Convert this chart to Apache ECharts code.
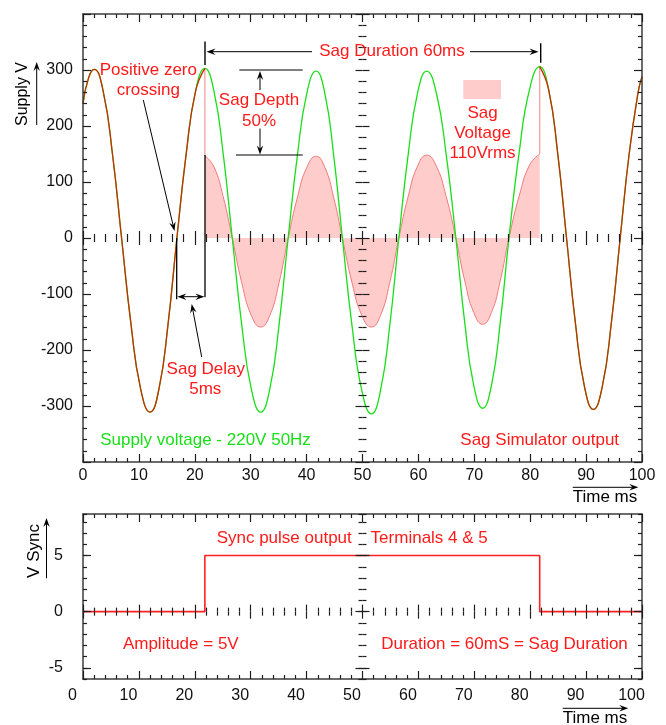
<!DOCTYPE html>
<html>
<head>
<meta charset="utf-8">
<script src="https://cdn.jsdelivr.net/npm/echarts@6/dist/echarts.min.js"></script>
<style>
  html, body { margin: 0; padding: 0; background: #fff; }
  #chart { width: 666px; height: 725px; }
</style>
</head>
<body>
<div id="chart"></div>
<script>
// ---------- data ----------
const timeTickLabels = [0, 10, 20, 30, 40, 50, 60, 70, 80, 90, 100];
const supplyTickLabels = [-300, -200, -100, 0, 100, 200, 300];
const syncTickLabels = [-5, 0, 5];

// Supply voltage (green), ms / volts
const supplyTime = [0, 1, 2, 3.63, 5.27, 6.9, 8.6, 10.3, 12, 13.6, 15.2, 16.8, 18.47, 20.13, 21.8,
  23.43, 25.07, 26.7, 28.4, 30.1, 31.8, 33.43, 35.07, 36.7, 38.37, 40.03, 41.7,
  43.27, 44.83, 46.4, 48.13, 49.87, 51.6, 53.23, 54.87, 56.5, 58.17, 59.83, 61.5,
  63.23, 64.97, 66.7, 68.3, 69.9, 71.5, 73.07, 74.63, 76.2, 78.03, 79.87, 81.7,
  83.3, 84.9, 86.5, 88.1, 89.7, 91.3, 92.9, 94.5, 96.1, 97.7, 99.3, 100];
const supplyVolts = [240, 286, 301, 261, 150, 0, -155, -269, -311, -269, -155, 0, 151, 262, 303,
  262, 151, 0, -155, -269, -311, -269, -155, 0, 149, 258, 298,
  258, 149, 0, -157, -272, -314, -272, -157, 0, 149, 258, 298,
  258, 149, 0, -152, -263, -304, -263, -152, 0, 153, 265, 306,
  265, 153, 0, -153, -265, -306, -265, -153, 0, 150, 260, 288];

// Sag simulator output during the sag (half amplitude)
const sagTime = [21.8, 23.43, 25.07, 26.7, 28.4, 30.1, 31.8, 33.43, 35.07, 36.7, 38.37, 40.03, 41.7,
  43.27, 44.83, 46.4, 48.13, 49.87, 51.6, 53.23, 54.87, 56.5, 58.17, 59.83, 61.5,
  63.23, 64.97, 66.7, 68.3, 69.9, 71.5, 73.07, 74.63, 76.2, 78.03, 79.87, 81.7];
const sagVolts = [147, 127, 74, 0, -80, -138, -159, -138, -80, 0, 73, 126, 146,
  126, 73, 0, -80, -138, -159, -138, -80, 0, 74, 128, 148,
  128, 74, 0, -77, -133, -154, -133, -77, 0, 75, 130, 150];

// Sync pulse (bottom panel)
const pulseTime = [0, 21.8, 21.8, 81.7, 81.7, 100];
const pulseVolts = [0, 0, 5, 5, 0, 0];

// ---------- layout ----------
const timeMin = 0, timeMax = 100, timeStep = 10, centreTime = 50;
const supplyMin = -400, supplyMax = 400, supplyStep = 100;
const syncMin = -6, syncMax = 8.7, syncStep = 1;

const topGrid = { left: 83, top: 14, width: 559, height: 448 };
const botGrid = { left: 83, top: 514, width: 559, height: 165 };

const FONT = '"Liberation Sans", Arial, Helvetica, sans-serif';
const RED = '#ff1a1a', GREEN = '#19df19';
const frameLine = { color: '#3c3c3c', width: 1.5 };
const tickLine = { color: '#1e1e1e', width: 1.2 };

const topZeroOffset = -topGrid.height * (0 - supplyMin) / (supplyMax - supplyMin);
const botZeroOffset = -botGrid.height * (0 - syncMin) / (syncMax - syncMin);
const topCentreOffset = -topGrid.width * (centreTime - timeMin) / (timeMax - timeMin);
const botCentreOffset = -botGrid.width * (centreTime - timeMin) / (timeMax - timeMin);

function xAx(gridIndex, position, o) {
  return Object.assign({
    type: 'value', gridIndex, position, min: timeMin, max: timeMax, interval: timeStep, z: 4,
    axisLine: { show: true, onZero: false, lineStyle: frameLine },
    axisTick: { show: true, inside: true, length: 8, lineStyle: tickLine },
    minorTick: { show: true, splitNumber: 5, length: 4, lineStyle: tickLine },
    axisLabel: { show: false },
    splitLine: { show: false }, minorSplitLine: { show: false }
  }, o);
}
function xCentre(gridIndex, offset, inside) {
  return xAx(gridIndex, 'bottom', {
    offset,
    axisLine: { show: false, onZero: false },
    axisTick: { show: true, inside, length: 7, lineStyle: tickLine },
    minorTick: { show: true, splitNumber: 5, length: 4, lineStyle: tickLine }
  });
}
function yAx(gridIndex, position, min, max, interval, o) {
  return Object.assign({
    type: 'value', gridIndex, position, min, max, interval, z: 4,
    axisLine: { show: true, onZero: false, lineStyle: frameLine },
    axisTick: { show: true, inside: true, length: 8, lineStyle: tickLine },
    minorTick: { show: false },
    axisLabel: { show: false },
    splitLine: { show: false }, minorSplitLine: { show: false }
  }, o);
}
const topMinor = { show: true, splitNumber: 5, length: 4, lineStyle: tickLine };

const xAxes = [
  // top panel
  xAx(0, 'bottom', { axisLabel: { show: true, fontSize: 16, color: '#111', fontFamily: FONT, margin: 6,
      formatter: v => timeTickLabels.includes(v) ? String(v) : '' } }),
  xAx(0, 'top'),
  xCentre(0, topZeroOffset, false),
  xCentre(0, topZeroOffset, true),
  // bottom panel
  xAx(1, 'bottom', { axisLabel: { show: true, fontSize: 16, color: '#111', fontFamily: FONT, margin: 9,
      padding: [0, 21, 0, 0],
      formatter: v => timeTickLabels.includes(v) ? String(v) : '' } }),
  xAx(1, 'top'),
  xCentre(1, botZeroOffset, false),
  xCentre(1, botZeroOffset, true)
];

const yAxes = [
  // top panel
  yAx(0, 'left', supplyMin, supplyMax, supplyStep, { minorTick: topMinor,
    axisLabel: { show: true, fontSize: 16, color: '#111', fontFamily: FONT, margin: 10,
      formatter: v => supplyTickLabels.includes(v) ? String(v) : '' } }),
  yAx(0, 'right', supplyMin, supplyMax, supplyStep, { minorTick: topMinor }),
  yAx(0, 'left', supplyMin, supplyMax, supplyStep, { offset: topCentreOffset, minorTick: topMinor,
    axisLine: { show: false, onZero: false }, axisTick: { show: true, inside: false, length: 7, lineStyle: tickLine } }),
  yAx(0, 'left', supplyMin, supplyMax, supplyStep, { offset: topCentreOffset, minorTick: topMinor,
    axisLine: { show: false, onZero: false }, axisTick: { show: true, inside: true, length: 7, lineStyle: tickLine } }),
  // bottom panel: short ticks every volt
  yAx(1, 'left', syncMin, syncMax, syncStep, { axisTick: { show: true, inside: true, length: 4, lineStyle: tickLine },
    axisLabel: { show: true, fontSize: 16, color: '#111', fontFamily: FONT, margin: 20,
      formatter: v => syncTickLabels.includes(v) ? String(v) : '' } }),
  yAx(1, 'right', syncMin, syncMax, syncStep, { axisTick: { show: true, inside: true, length: 4, lineStyle: tickLine } }),
  yAx(1, 'left', syncMin, syncMax, syncStep, { offset: botCentreOffset, axisLine: { show: false, onZero: false },
    axisTick: { show: true, inside: false, length: 4, lineStyle: tickLine } }),
  yAx(1, 'left', syncMin, syncMax, syncStep, { offset: botCentreOffset, axisLine: { show: false, onZero: false },
    axisTick: { show: true, inside: true, length: 4, lineStyle: tickLine } }),
  // bottom panel: long ticks at labelled values
  yAx(1, 'left', syncMin, syncMax, syncStep, { axisLine: { show: false, onZero: false },
    axisTick: { show: true, inside: true, length: 8, lineStyle: tickLine, customValues: syncTickLabels } }),
  yAx(1, 'right', syncMin, syncMax, syncStep, { axisLine: { show: false, onZero: false },
    axisTick: { show: true, inside: true, length: 8, lineStyle: tickLine, customValues: syncTickLabels } }),
  yAx(1, 'left', syncMin, syncMax, syncStep, { offset: botCentreOffset, axisLine: { show: false, onZero: false },
    axisTick: { show: true, inside: false, length: 7, lineStyle: tickLine, customValues: syncTickLabels } }),
  yAx(1, 'left', syncMin, syncMax, syncStep, { offset: botCentreOffset, axisLine: { show: false, onZero: false },
    axisTick: { show: true, inside: true, length: 7, lineStyle: tickLine, customValues: syncTickLabels } })
];

// ---------- series data ----------
const pair = (ts, vs) => ts.map((t, i) => [t, vs[i]]);
const supplyData = pair(supplyTime, supplyVolts);
const sagData = pair(sagTime, sagVolts);
const sagStart = sagTime[0], sagEnd = sagTime[sagTime.length - 1];
const vAt = t => supplyVolts[supplyTime.indexOf(t)];
const preSag = supplyData.filter(p => p[0] <= sagStart);
const postSag = supplyData.filter(p => p[0] >= sagEnd);
const edgeStart = [[sagStart, vAt(sagStart)], [sagStart, sagVolts[0]]];
const edgeEnd = [[sagEnd, sagVolts[sagVolts.length - 1]], [sagEnd, vAt(sagEnd)]];
const pulseData = pair(pulseTime, pulseVolts);

const lineBase = { type: 'line', showSymbol: false, symbol: 'none', silent: true, xAxisIndex: 0, yAxisIndex: 0 };
const series = [
  Object.assign({}, lineBase, { name: 'sag', data: sagData, smooth: 0.5,
    lineStyle: { color: '#f27b7b', width: 1 }, areaStyle: { color: '#ffcccc', opacity: 1 } }),
  Object.assign({}, lineBase, { name: 'edge1', data: edgeStart, lineStyle: { color: '#f7a0a0', width: 1.3 } }),
  Object.assign({}, lineBase, { name: 'edge2', data: edgeEnd, lineStyle: { color: '#f7a0a0', width: 1.3 } }),
  Object.assign({}, lineBase, { name: 'supply', data: supplyData, smooth: 0.5,
    lineStyle: { color: GREEN, width: 1.3 } }),
  Object.assign({}, lineBase, { name: 'pre', data: preSag, smooth: 0.5,
    lineStyle: { color: '#cc2a00', width: 1.3 } }),
  Object.assign({}, lineBase, { name: 'post', data: postSag, smooth: 0.5,
    lineStyle: { color: '#cc2a00', width: 1.3 } }),
  Object.assign({}, lineBase, { name: 'pulse', data: pulseData, xAxisIndex: 4, yAxisIndex: 4,
    lineStyle: { color: '#ff2020', width: 1.6 } })
];

// ---------- annotations ----------
function txt(s, x, y, fill, size, rot) {
  const e = { type: 'text', x, y, z: 100, silent: true,
    style: { text: s, x: 0, y: 0, fill: fill || RED, fontSize: size || 17, fontFamily: FONT,
      align: 'center', verticalAlign: 'middle' } };
  if (rot) e.rotation = rot;
  return e;
}
function seg(x1, y1, x2, y2, w) {
  return { type: 'line', z: 100, silent: true, shape: { x1, y1, x2, y2 },
    style: { stroke: '#000', lineWidth: w || 1 } };
}
function arrow(x1, y1, x2, y2) {
  const dx = x2 - x1, dy = y2 - y1, L = Math.hypot(dx, dy), ux = dx / L, uy = dy / L;
  const head = 9, hw = 3.2;
  const bx = x2 - ux * head, by = y2 - uy * head, px = -uy, py = ux;
  return [
    seg(x1, y1, x2 - ux * 5, y2 - uy * 5),
    { type: 'polygon', z: 100, silent: true,
      shape: { points: [[x2, y2], [bx + px * hw, by + py * hw], [x2 - ux * head * 0.65, y2 - uy * head * 0.65], [bx - px * hw, by - py * hw]] },
      style: { fill: '#000' } }
  ];
}

const graphics = [].concat(
  // top panel
  txt('Supply V', 23, 94, '#000', 16, Math.PI / 2),
  arrow(36.7, 125, 36.7, 62),
  txt('Positive zero', 148.3, 70), txt('crossing', 148.3, 90),
  arrow(143.3, 100, 174.5, 231),
  txt('Sag Depth', 259, 100), txt('50%', 259, 121.5),
  seg(239.3, 70, 302.7, 70), seg(236, 155, 302.7, 155),
  arrow(260, 90, 260, 71), arrow(260, 128.5, 260, 154.5),
  seg(205, 41.5, 205, 65, 1.4),
  arrow(312, 51.7, 206.5, 51.7),
  txt('Sag Duration 60ms', 392, 51.7),
  arrow(470, 51.7, 538.5, 51.7),
  seg(540.7, 43.3, 540.7, 62.7, 1.4),
  [{ type: 'rect', z: 100, silent: true, shape: { x: 463.3, y: 80, width: 37.7, height: 19 }, style: { fill: '#ffcccc' } }],
  txt('Sag', 482.5, 113.3), txt('Voltage', 482.5, 133.3), txt('110Vrms', 482.5, 153.3),
  seg(205, 155, 205, 297.3, 1.3),
  seg(176.7, 238, 176.7, 299.3, 1.3),
  arrow(191, 296.7, 177.4, 296.7), arrow(191, 296.7, 204.4, 296.7),
  arrow(201.7, 357, 191.7, 304),
  txt('Sag Delay', 205.8, 369.3), txt('5ms', 205.3, 389.3),
  txt('Supply voltage - 220V 50Hz', 205.5, 440.7, GREEN),
  txt('Sag Simulator output', 539.7, 440),
  arrow(572.7, 487.3, 638.3, 487.3),
  txt('Time ms', 605, 497, '#000', 17),
  // bottom panel
  txt('V Sync', 34, 551, '#000', 17, Math.PI / 2),
  arrow(46.5, 578.3, 46.5, 518),
  txt('Sync pulse output', 284.2, 538.3), txt('Terminals 4 & 5', 429.2, 538.3),
  txt('Amplitude = 5V', 180.8, 644), txt('Duration = 60mS = Sag Duration', 504.5, 644),
  arrow(562.7, 708.3, 628.3, 708.3),
  txt('Time ms', 595, 718.3, '#000', 17)
);

const chart = echarts.init(document.getElementById('chart'), null, { renderer: 'canvas' });
chart.setOption({
  animation: false,
  backgroundColor: '#ffffff',
  textStyle: { fontFamily: FONT },
  grid: [
    Object.assign({ outerBoundsMode: 'none', containLabel: false }, topGrid),
    Object.assign({ outerBoundsMode: 'none', containLabel: false }, botGrid)
  ],
  xAxis: xAxes,
  yAxis: yAxes,
  series,
  graphic: { elements: graphics }
});
</script>
</body>
</html>
